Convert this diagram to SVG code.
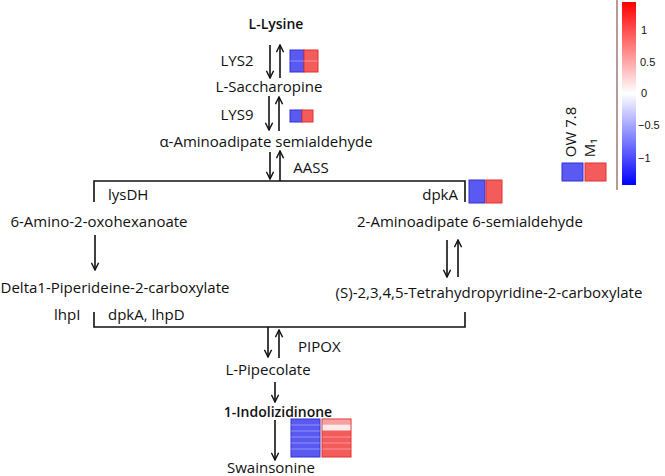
<svg xmlns="http://www.w3.org/2000/svg" width="665" height="476" viewBox="0 0 665 476">
<defs>
<marker id="ah" viewBox="0 0 10 10" refX="9" refY="5" markerWidth="9" markerHeight="9" orient="auto" markerUnits="userSpaceOnUse">
<path d="M1,1 L9,5 L1,9" fill="none" stroke="#111" stroke-width="1.6"/>
</marker>
<linearGradient id="cbar" x1="0" y1="0" x2="0" y2="1">
<stop offset="0" stop-color="#ff0000"/>
<stop offset="0.5" stop-color="#ffffff"/>
<stop offset="1" stop-color="#0000ff"/>
</linearGradient>
<style>
text{font-family:"Open Sans","Liberation Sans",sans-serif;font-size:15px;fill:#111}
.m{text-anchor:middle}
.b{font-weight:600;font-size:14px}
.tick{font-family:"Liberation Sans",sans-serif;font-size:11px}
.c{stroke:#111;stroke-width:1.6;fill:none}
.blue{fill:#5a5af2;stroke:#3030d0;stroke-width:1}
.red{fill:#f45c5c;stroke:#e03030;stroke-width:1}
.sep{stroke:#ffffff;stroke-opacity:0.35;stroke-width:1}
</style>
</defs>
<rect width="665" height="476" fill="#fff"/>

<g id="connectors">
<line class="c" x1="270" y1="45" x2="270" y2="78" marker-end="url(#ah)"/>
<line class="c" x1="280" y1="78" x2="280" y2="45" marker-end="url(#ah)"/>
<line class="c" x1="269" y1="96" x2="269" y2="130" marker-end="url(#ah)"/>
<line class="c" x1="279" y1="131" x2="279" y2="97" marker-end="url(#ah)"/>
<line class="c" x1="270" y1="152" x2="270" y2="179" marker-end="url(#ah)"/>
<line class="c" x1="280" y1="181" x2="280" y2="151" marker-end="url(#ah)"/>
<path class="c" d="M94,202 V181 H465 V202"/>
<line class="c" x1="95" y1="235" x2="95" y2="270" marker-end="url(#ah)"/>
<line class="c" x1="447" y1="240" x2="447" y2="277" marker-end="url(#ah)"/>
<line class="c" x1="458" y1="277" x2="458" y2="240" marker-end="url(#ah)"/>
<path class="c" d="M94,312 V327 H465 V312"/>
<line class="c" x1="268" y1="327" x2="268" y2="357" marker-end="url(#ah)"/>
<line class="c" x1="279" y1="358" x2="279" y2="330" marker-end="url(#ah)"/>
<line class="c" x1="275" y1="382" x2="275" y2="402" marker-end="url(#ah)"/>
<line class="c" x1="275" y1="420" x2="275" y2="460" marker-end="url(#ah)"/>
</g>

<g id="lysine"><text class="m b" x="276" y="29">L-Lysine</text></g>
<g id="lys2"><text class="m" x="237" y="66">LYS2</text>
<rect class="blue" x="290" y="50" width="14" height="22"/><rect class="red" x="304" y="50" width="14" height="22"/>
<line class="sep" x1="290" y1="61" x2="318" y2="61"/></g>
<g id="saccharopine"><text class="m" x="269" y="92">L-Saccharopine</text></g>
<g id="lys9"><text class="m" x="237" y="120">LYS9</text>
<rect class="blue" x="290" y="110" width="12" height="12"/><rect class="red" x="302" y="110" width="11" height="12"/></g>
<g id="aminoadipate-semialdehyde"><text class="m" x="266" y="147">α-Aminoadipate semialdehyde</text></g>
<g id="aass"><text class="m" x="311" y="173">AASS</text></g>
<g id="lysdh"><text x="108" y="200">lysDH</text></g>
<g id="dpka"><text x="458" y="200" text-anchor="end">dpkA</text>
<rect class="blue" x="469" y="180" width="16" height="23"/><rect class="red" x="486" y="180" width="16" height="23"/></g>
<g id="amino-oxohexanoate"><text class="m" x="99" y="227">6-Amino-2-oxohexanoate</text></g>
<g id="aminoadipate-6-semialdehyde"><text class="m" x="470" y="227">2-Aminoadipate 6-semialdehyde</text></g>
<g id="piperideine"><text class="m" x="115" y="293">Delta1-Piperideine-2-carboxylate</text></g>
<g id="tetrahydropyridine"><text class="m" x="489" y="298">(S)-2,3,4,5-Tetrahydropyridine-2-carboxylate</text></g>
<g id="lhpi"><text x="54" y="320">lhpI</text></g>
<g id="dpka-lhpd"><text x="108" y="320">dpkA, lhpD</text></g>
<g id="pipox"><text x="298" y="352">PIPOX</text></g>
<g id="pipecolate"><text class="m" x="268" y="375">L-Pipecolate</text></g>
<g id="indolizidinone"><text class="m b" x="278" y="417">1-Indolizidinone</text>
<rect class="blue" x="291" y="419" width="29" height="38"/>
<line class="sep" x1="291" y1="425" x2="320" y2="425"/><line class="sep" x1="291" y1="431" x2="320" y2="431"/>
<line class="sep" x1="291" y1="437" x2="320" y2="437"/><line class="sep" x1="291" y1="443" x2="320" y2="443"/>
<line class="sep" x1="291" y1="449" x2="320" y2="449"/>
<rect class="red" x="322" y="419" width="29" height="38"/>
<rect x="322.5" y="419.5" width="28" height="5" fill="#f7a0a0"/>
<rect x="322.5" y="424.5" width="28" height="6" fill="#fbeaea"/>
<line class="sep" x1="322" y1="437" x2="351" y2="437"/><line class="sep" x1="322" y1="443" x2="351" y2="443"/>
<line class="sep" x1="322" y1="449" x2="351" y2="449"/></g>
<g id="swainsonine"><text class="m" x="271" y="473">Swainsonine</text></g>

<g id="legend">
<rect class="blue" x="562" y="163" width="21" height="18"/><rect class="red" x="585" y="163" width="21" height="18"/>
<text class="m" font-size="13" transform="translate(576,132) rotate(-90)">OW  7.8</text>
<text class="m" font-size="13" transform="translate(595,148) rotate(-90)">M₁</text>
<line x1="617" y1="0" x2="617" y2="190" stroke="#a07878" stroke-width="1.5"/>
<rect x="622" y="2" width="14" height="183" fill="url(#cbar)"/>
<text class="tick" x="641" y="34">1</text>
<text class="tick" x="640" y="66">0.5</text>
<text class="tick" x="641" y="97">0</text>
<text class="tick" x="638" y="129">−0.5</text>
<text class="tick" x="638" y="162">−1</text>
</g>
</svg>
